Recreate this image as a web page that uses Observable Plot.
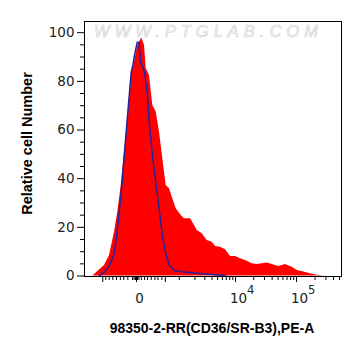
<!DOCTYPE html>
<html><head><meta charset="utf-8">
<script src="https://cdn.jsdelivr.net/npm/d3@7"></script>
<script src="https://cdn.jsdelivr.net/npm/@observablehq/plot@0.6"></script>
<style>body{margin:0;background:#fff;} svg{display:block}</style>
</head><body><div id="chart"></div>
<script>
// Red (stained sample) histogram: fluorescence value, relative count
const redX = [-1043, -584, -441, -323, -256, -195, -143, -97, -55, -20, 13, 55, 88, 111, 158, 212, 275, 345, 423, 515, 616, 730, 863, 1092, 1269, 1652, 1958, 2194, 2697, 3304, 4033, 4597, 5592, 6795, 8243, 9993, 12100, 14640, 18880, 22800, 27550, 33250, 40150, 51460, 66130, 85000, 102500, 131300, 168800, 230200, 296000];
const redY = [0, 4.3, 8.4, 18.0, 26.2, 37.2, 50.9, 64.6, 82.4, 87.9, 94.8, 97.8, 94.8, 85.2, 82.4, 70.1, 67.4, 59.1, 48.2, 37.2, 35.9, 31.7, 27.6, 24.9, 23.5, 23.5, 20.8, 18.7, 17.4, 14.6, 13.9, 12.1, 11.8, 10.8, 8.0, 8.0, 7.1, 6.4, 5.0, 4.7, 5.0, 5.3, 4.7, 3.9, 4.7, 3.6, 2.3, 1.6, 0.9, 0.2, 0];
// Blue (control) histogram
const blueX = [-756, -584, -441, -323, -256, -195, -143, -97, -55, -37, -20, 7, 23, 41, 67, 88, 124, 158, 212, 275, 345, 423, 515, 616, 794, 1269, 2697, 6795];
const blueY = [0.2, 1.6, 4.3, 9.8, 20.8, 34.5, 50.9, 67.4, 83.8, 86.6, 90.7, 96.1, 96.1, 87.9, 85.9, 83.8, 75.6, 61.9, 48.2, 37.2, 26.2, 15.3, 8.4, 4.3, 2.3, 1.6, 0.9, 0.2];

// Axis ticks
const yMajorTicks = [0, 20, 40, 60, 80, 100];
const yMinorTicks = [5, 10, 15, 25, 30, 35, 45, 50, 55, 65, 70, 75, 85, 90, 95];
const xMajorTicks = [-640, 0, 490, 10000, 100000];
const xMinorTicks = [-545, -450, -360, -280, -210, -155, -97, -40, -24, -10, 10, 24, 50, 90, 130, 185, 250, 310, 400, 1000, 2000, 3000, 4000, 5000, 6000, 7000, 8000, 9000, 20000, 30000, 40000, 50000, 60000, 70000, 80000, 90000, 200000, 300000, 400000, 500000];
const xLabelValues = [0, 10000, 100000];
const xLabelBases = ["0", "10", "10"];
const xLabelExps = ["", "4", "5"];

const xTitle = "98350-2-RR(CD36/SR-B3),PE-A";
const yTitle = "Relative cell Number";
const watermark = "WWW.PTGLAB.COM";

const red = redX.map((x, i) => ({x, y: redY[i]}));
const blue = blueX.map((x, i) => ({x, y: blueY[i]}));
const xLabels = xLabelValues.map((v, i) => ({v, base: xLabelBases[i], exp: xLabelExps[i]}));

const tickFont = "DejaVu Sans, sans-serif";
const titleFont = "Liberation Sans, Arial, sans-serif";

const chart = Plot.plot({
  width: 361, height: 356,
  marginLeft: 84, marginRight: 20, marginTop: 21, marginBottom: 80,
  style: {background: "#fff", color: "#000", overflow: "visible"},
  x: {type: "symlog", constant: 253, domain: [-1515, 538000]},
  y: {domain: [-0.2, 104.6]},
  marks: [
    Plot.text([watermark], {frameAnchor: "top", textAnchor: "middle", lineAnchor: "middle", dx: -4.5, dy: 10.7, fontSize: 16.5, fontStyle: "italic",
      fontFamily: titleFont, fill: "#fbfbfb", stroke: "#cfcfcf", strokeWidth: 0.6, paintOrder: "normal"}),
    Plot.areaY(red, {x: "x", y: "y", fill: "#ff0000"}),
    Plot.line(blue, {x: "x", y: "y", stroke: "#2222a0", strokeWidth: 1.5}),
    Plot.frame({stroke: "#000"}),
    Plot.axisY({ticks: yMajorTicks, tickSize: 7, tickPadding: 3, fontSize: 13.5, fontFamily: tickFont, fill: "#222", label: null}),
    Plot.axisY({ticks: yMinorTicks, tickSize: 4, tickFormat: () => "", label: null}),
    Plot.axisX({ticks: xMajorTicks, tickSize: 6, tickFormat: () => "", label: null}),
    Plot.axisX({ticks: xMinorTicks, tickSize: 4, tickFormat: () => "", label: null}),
    Plot.text(xLabels, {x: "v", text: "base", frameAnchor: "bottom", textAnchor: "middle", lineAnchor: "middle", dx: 3, dy: 21.7, fontSize: 13.5, fontFamily: tickFont, fill: "#222"}),
    Plot.text(xLabels, {x: "v", text: "exp", frameAnchor: "bottom", textAnchor: "start", lineAnchor: "middle", dx: 11.5, dy: 14.3, fontSize: 11.5, fontFamily: tickFont, fill: "#222"}),
    Plot.text([xTitle], {frameAnchor: "bottom", textAnchor: "middle", lineAnchor: "middle", dx: -1, dy: 52, fontSize: 14, fontWeight: "bold", fontFamily: titleFont, fill: "#000"}),
    Plot.text([yTitle], {frameAnchor: "left", textAnchor: "middle", lineAnchor: "middle", dx: -57, dy: -5.5, rotate: -90, fontSize: 14.5, fontWeight: "bold", fontFamily: titleFont, fill: "#000"})
  ]
});
d3.select(chart).selectAll("text").filter(function() { return this.textContent === watermark; })
  .attr("letter-spacing", "5");
document.getElementById("chart").appendChild(chart);
</script>
</body></html>
